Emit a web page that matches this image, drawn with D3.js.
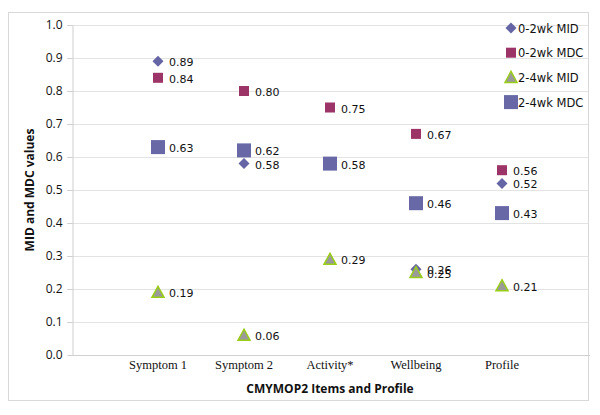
<!DOCTYPE html>
<html>
<head>
<meta charset="utf-8">
<script src="https://cdn.jsdelivr.net/npm/d3@7"></script>
<style>
body { margin: 0; background: #fff; }
text { fill: #111; }
</style>
</head>
<body>
<svg id="chart" width="600" height="415"></svg>
<script>
// chart data
var categories = ['Symptom 1', 'Symptom 2', 'Activity*', 'Wellbeing', 'Profile'];
var mid02 = [0.89, 0.58, null, 0.26, 0.52];
var mdc02 = [0.84, 0.80, 0.75, 0.67, 0.56];
var mid24 = [0.19, 0.06, 0.29, 0.25, 0.21];
var mdc24 = [0.63, 0.62, 0.58, 0.46, 0.43];
var yTicks = [0, 0.1, 0.2, 0.3, 0.4, 0.5, 0.6, 0.7, 0.8, 0.9, 1.0];

var series = [
    {name: '0-2wk MID', values: mid02, shape: 'diamond'},
    {name: '0-2wk MDC', values: mdc02, shape: 'square'},
    {name: '2-4wk MID', values: mid24, shape: 'triangle'},
    {name: '2-4wk MDC', values: mdc24, shape: 'bigsquare'}
];

var svg = d3.select('#chart');

// outer frame
svg.append('rect')
    .attr('x', 8.5).attr('y', 12.5)
    .attr('width', 580).attr('height', 388)
    .attr('fill', 'none').attr('stroke', '#d9d9d9');

var x = d3.scaleLinear().domain([0, 6]).range([72, 588]);
var y = d3.scaleLinear().domain([0, 1]).range([355, 25]);

// gridlines
svg.append('g').selectAll('line').data(yTicks.slice(1)).join('line')
    .attr('x1', 67).attr('x2', 588)
    .attr('y1', function(d) { return Math.round(y(d)) + 0.5; })
    .attr('y2', function(d) { return Math.round(y(d)) + 0.5; })
    .attr('stroke', '#e3e3e3');

// axes
var yAxis = svg.append('g')
    .attr('transform', 'translate(72.5,0)')
    .call(d3.axisLeft(y).tickValues(yTicks).tickFormat(d3.format('.1f')).tickSize(5).tickSizeOuter(0));
yAxis.select('.domain').attr('stroke', '#cfcfcf');
yAxis.selectAll('.tick line').attr('stroke', '#cfcfcf');
yAxis.selectAll('.tick text')
    .attr('x', -10)
    .style('font-family', 'Open Sans, sans-serif')
    .style('font-size', '12px')
    .attr('fill', '#111');

svg.append('line')
    .attr('x1', 72).attr('x2', 590)
    .attr('y1', 355.5).attr('y2', 355.5)
    .attr('stroke', '#d0d0d0');

// category labels
svg.append('g').selectAll('text').data(categories).join('text')
    .attr('x', function(d, i) { return x(i + 1); })
    .attr('y', 369)
    .attr('text-anchor', 'middle')
    .style('font-family', 'Liberation Serif, serif')
    .style('font-size', '12.5px')
    .text(function(d) { return d; });

// axis titles
svg.append('text')
    .attr('x', 330).attr('y', 393)
    .attr('text-anchor', 'middle')
    .style('font-family', 'Open Sans, sans-serif')
    .style('font-size', '12px')
    .style('font-weight', 'bold')
    .text('CMYMOP2 Items and Profile');

svg.append('text')
    .attr('transform', 'translate(34,190) rotate(-90)')
    .attr('text-anchor', 'middle')
    .style('font-family', 'Open Sans, sans-serif')
    .style('font-size', '12px')
    .style('font-weight', 'bold')
    .text('MID and MDC values');

// marker drawing
function drawMarker(g, shape, cx, cy)
{
    if (shape == 'diamond')
        g.append('path')
            .attr('d', 'M' + cx + ',' + (cy - 5.5) + 'L' + (cx + 5.5) + ',' + cy + 'L' + cx + ',' + (cy + 5.5) + 'L' + (cx - 5.5) + ',' + cy + 'Z')
            .attr('fill', '#6565a6');
    else if (shape == 'square')
        g.append('rect')
            .attr('x', cx - 5).attr('y', cy - 5).attr('width', 10).attr('height', 10)
            .attr('fill', '#9c3467');
    else if (shape == 'triangle')
        g.append('path')
            .attr('d', 'M' + cx + ',' + (cy - 6) + 'L' + (cx + 6) + ',' + (cy + 5) + 'L' + (cx - 6) + ',' + (cy + 5) + 'Z')
            .attr('fill', '#9a9a9a').attr('stroke', '#9acd16').attr('stroke-width', 1.5);
    else
        g.append('rect')
            .attr('x', cx - 7).attr('y', cy - 7).attr('width', 14).attr('height', 14)
            .attr('fill', '#6868a6');
}

// points and value labels
var pts = svg.append('g');
for (var s = 0; s < series.length; s++)
{
    var ser = series[s];
    for (var i = 0; i < ser.values.length; i++)
    {
        var v = ser.values[i];
        if (v == null) continue;
        var cx = x(i + 1), cy = y(v);
        drawMarker(pts, ser.shape, cx, cy);
        pts.append('text')
            .attr('x', cx + 11).attr('y', cy + 5)
            .style('font-family', 'DejaVu Sans, sans-serif')
            .style('font-size', '11px')
            .text(d3.format('.2f')(v));
    }
}

// legend
var legend = svg.append('g');
for (var s = 0; s < series.length; s++)
{
    var ly = 28 + s * 24.7;
    drawMarker(legend, series[s].shape, 511, ly);
    legend.append('text')
        .attr('x', 518).attr('y', ly + 4.5)
        .style('font-family', 'DejaVu Sans, sans-serif')
        .style('font-size', '11.5px')
        .text(series[s].name);
}
</script>
</body>
</html>
